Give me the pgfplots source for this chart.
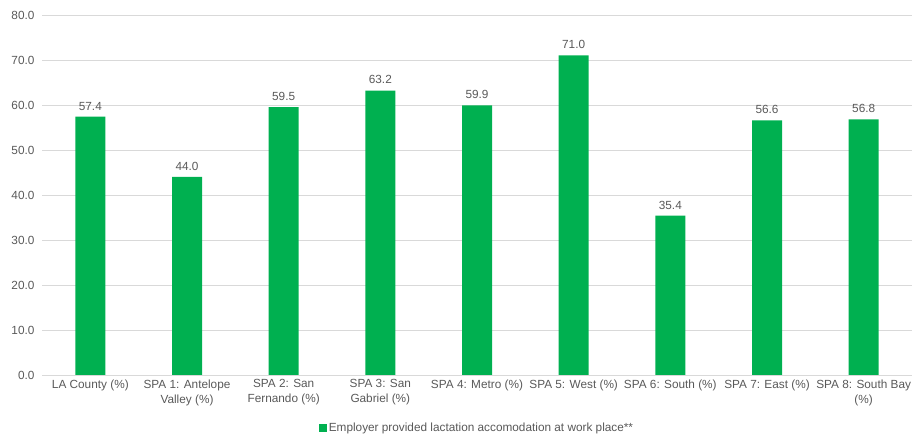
\documentclass[border=0pt]{standalone}
\usepackage{pgfplots}
\pgfplotsset{compat=1.18}
\usepackage{fontspec}
\setmainfont{Liberation Sans}
\usetikzlibrary{calc}
\definecolor{bargreen}{HTML}{00B050}
\definecolor{txtgray}{HTML}{595959}
\definecolor{gridgray}{HTML}{D9D9D9}
\begin{document}
\begin{tikzpicture}
\begin{axis}[
  name=ax,
  scale only axis,
  width=870pt, height=360pt,
  xmin=-0.5, xmax=8.5,
  ymin=0, ymax=80,
  ytick={0,10,...,80},
  xtick={0,...,8},
  xticklabels={LA County (\%), SPA 1: Antelope\\Valley (\%), SPA 2: San\\Fernando (\%), SPA 3: San\\Gabriel (\%), SPA 4: Metro (\%), SPA 5: West (\%), SPA 6: South (\%), SPA 7: East (\%), SPA 8: South Bay\\(\%)},
  xticklabel style={align=center, font=\fontsize{11.8}{15}\selectfont, text=txtgray, yshift=-1pt},
  yticklabel style={font=\fontsize{11.8}{14}\selectfont, text=txtgray, /pgf/number format/fixed, /pgf/number format/precision=1, /pgf/number format/fixed zerofill, xshift=-4pt},
  /pgf/number format/assume math mode=true,
  ymajorgrids,
  grid style={gridgray, line width=0.8pt},
  axis x line*=bottom,
  axis y line*=left,
  y axis line style={draw=none},
  x axis line style={gridgray, line width=0.8pt, -},
  major tick length=0pt,
  ybar,
  bar width=30pt,
  nodes near coords,
  nodes near coords style={font=\fontsize{11.8}{14}\selectfont, text=txtgray, /pgf/number format/fixed, /pgf/number format/precision=1, /pgf/number format/fixed zerofill, /pgf/number format/assume math mode=true, yshift=3pt},
  legend style={at={(0.5,-0.147)}, anchor=center, draw=none, font=\fontsize{11.8}{14}\selectfont, text=txtgray, legend columns=1, inner sep=0pt},
  legend image code/.code={\fill[bargreen] (0.05cm,-0.13cm) rectangle (0.33cm,0.15cm);},
  clip=false,
]
\addplot[fill=bargreen, draw=none] coordinates {(0,57.4) (1,44.0) (2,59.5) (3,63.2) (4,59.9) (5,71.0) (6,35.4) (7,56.6) (8,56.8)};
\addlegendentry{Employer provided lactation accomodation at work place**}
\end{axis}
\pgfresetboundingbox
\path[use as bounding box] ($(ax.south west)+(-42pt,-62pt)$) rectangle ($(ax.north east)+(0pt,15pt)$);
\end{tikzpicture}
\end{document}
